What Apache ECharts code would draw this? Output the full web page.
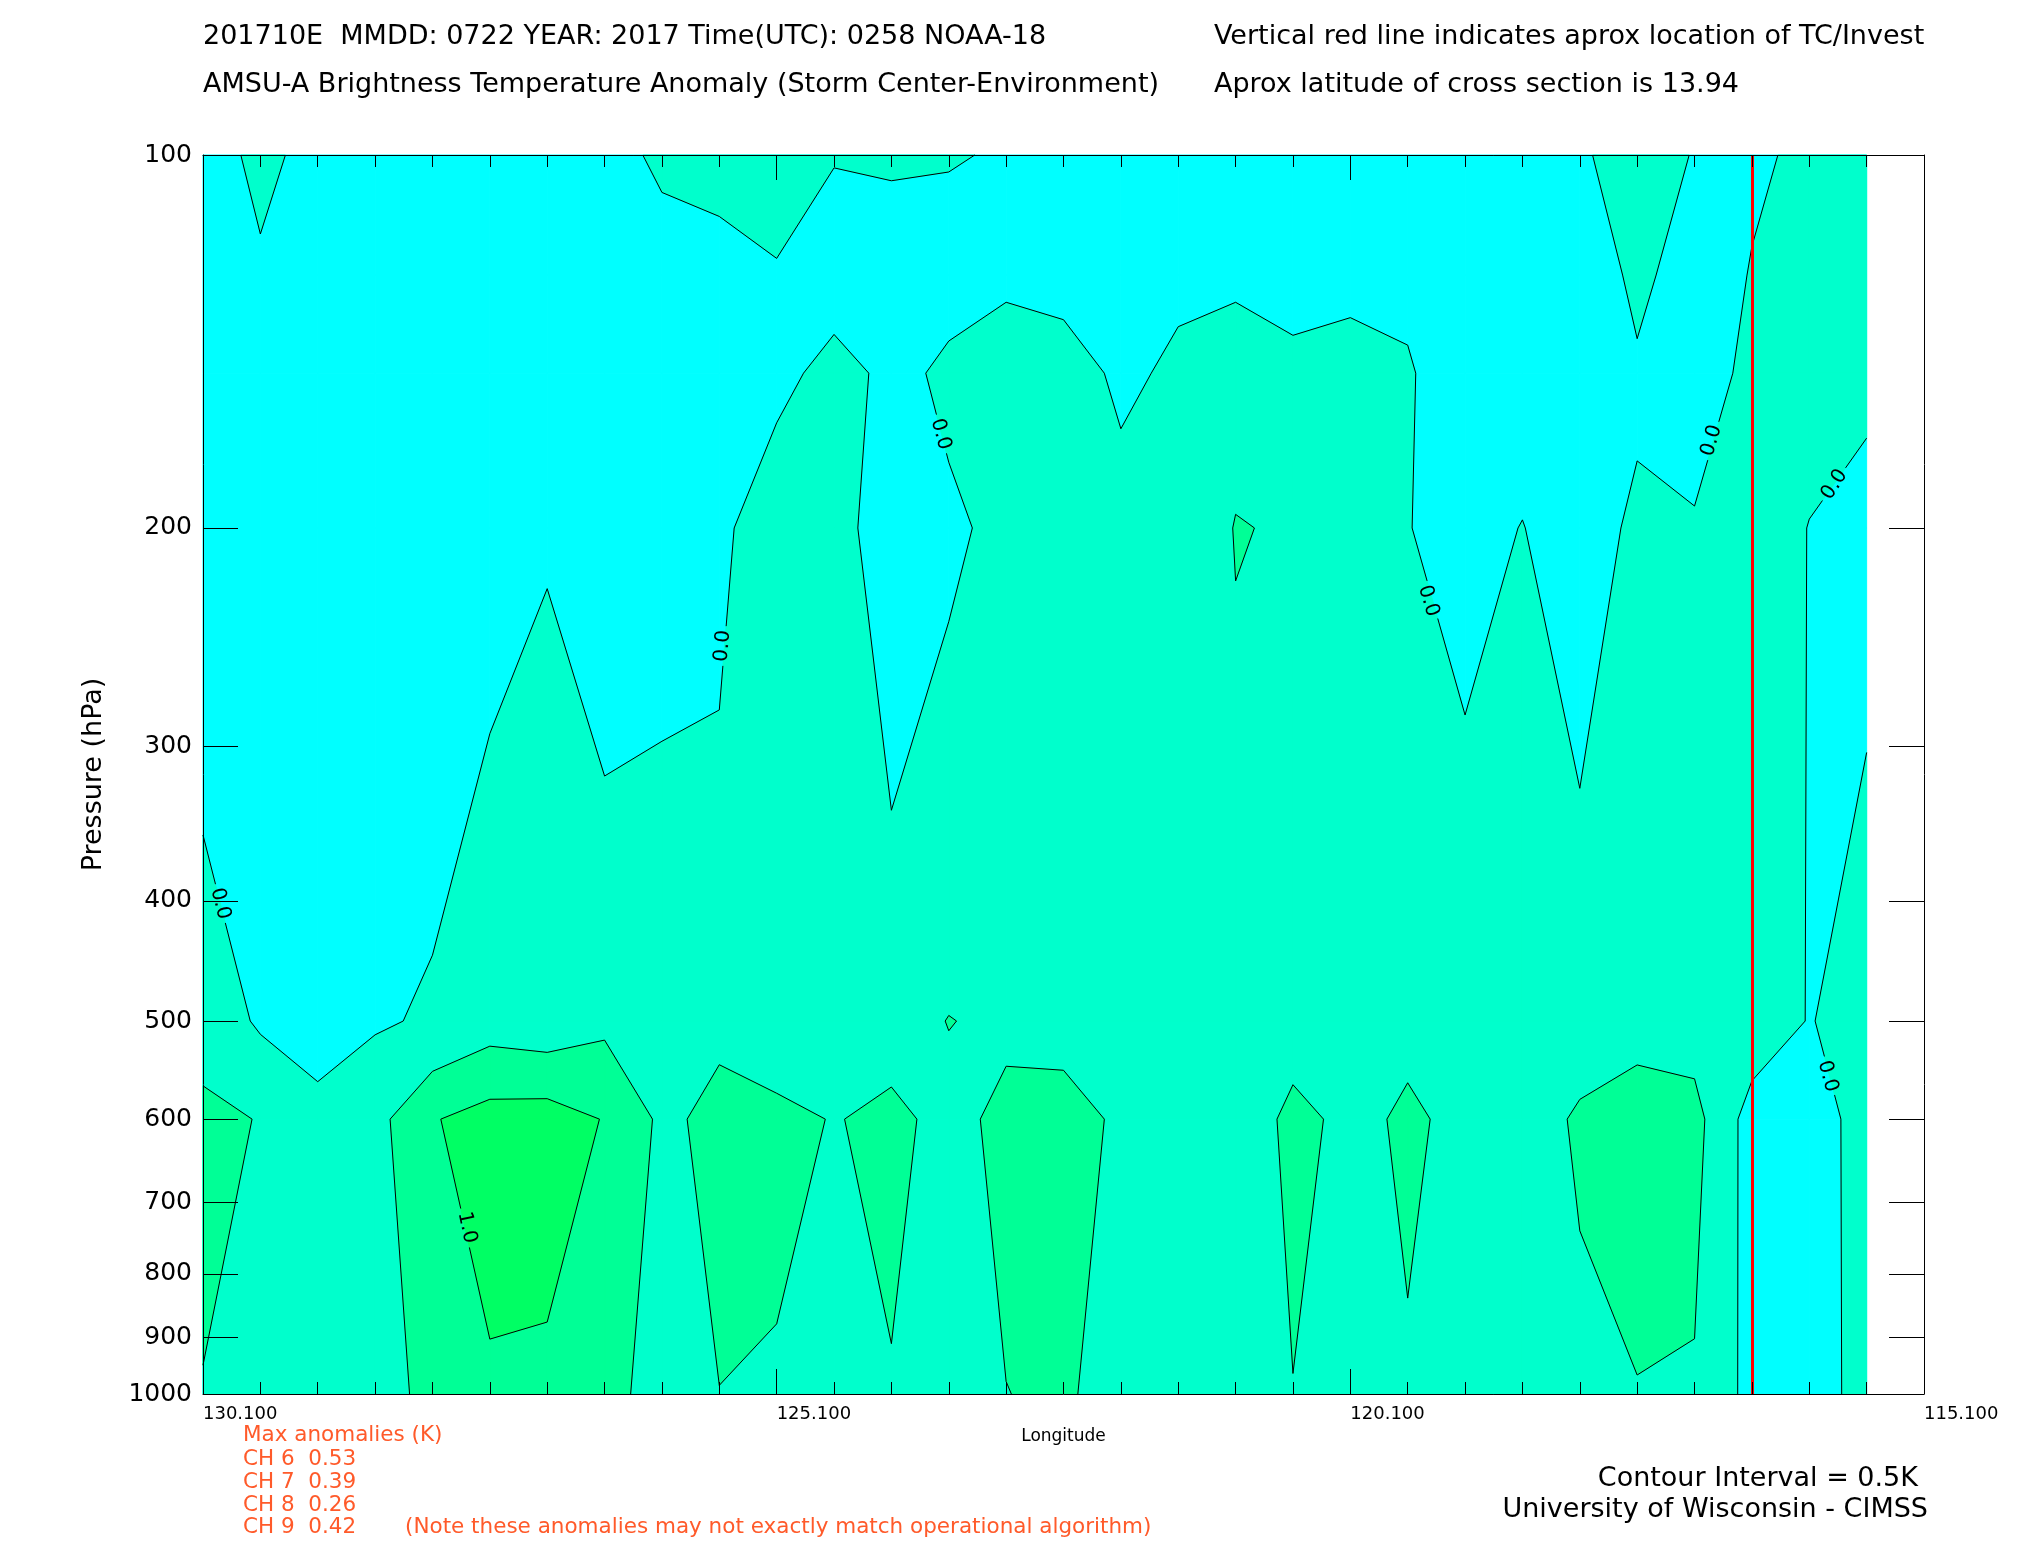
<!DOCTYPE html>
<html>
<head>
<meta charset="utf-8">
<title>AMSU-A Brightness Temperature Anomaly cross section</title>
<script src="https://cdn.jsdelivr.net/npm/echarts@6/dist/echarts.min.js"></script>
<style>
  html, body { margin: 0; padding: 0; background: #fff; }
  #chart { width: 2025px; height: 1550px; }
</style>
</head>
<body>
<div id="chart"></div>
<script>
// data columns (deg E) and pressure levels (hPa) of the cross section
const lons = [130.1, 129.6, 129.1, 128.6, 128.1, 127.6, 127.1, 126.6, 126.1, 125.6,
  125.1, 124.6, 124.1, 123.6, 123.1, 122.6, 122.1, 121.6, 121.1, 120.6,
  120.1, 119.6, 119.1, 118.6, 118.1, 117.6, 117.1, 116.6, 116.1, 115.6];
const levels = [100, 125, 150, 200, 500, 600, 1000];

// temperature anomaly (K) on each level, one value per column
const anom100 = [-0.3, 0.155, -0.2, -0.3, -0.3, -0.3, -0.3, -0.2, 0.1, 0.12,
  0.15, 0.03, 0.05, 0.024, -0.029, -0.2, -0.2, -0.2, -0.2, -0.2,
  -0.2, -0.2, -0.2, -0.2, -0.05, 0.175, -0.018, -0.077, 0.093, 0.15];
const anom125 = [-0.32, -0.09, -0.3, -0.3, -0.3, -0.3, -0.3, -0.3, -0.247, -0.128,
  -0.027, -0.28, -0.205, -0.163, -0.07, -0.15, -0.2, -0.072, -0.112, -0.218,
  -0.14, -0.114, -0.3, -0.25, -0.42, 0.143, -0.29, 0.027, 0.25, 0.12];
const anom150 = [-0.35, -0.3, -0.35, -0.35, -0.35, -0.3, -0.3, -0.3, -0.45, -0.376,
  -0.176, 0.2, -0.13, 0.087, 0.2, 0.197, -0.08, 0.071, 0.32, 0.15,
  0.2, 0.05, -0.307, -0.157, -0.3, -0.085, -0.263, 0.131, 0.2, 0.067];
const anom200 = [-0.339, -0.35, -0.4, -0.35, -0.219, -0.126, -0.016, -0.253, -0.144, -0.151,
  0.431, 0.211, -0.298, -0.074, 0.106, 0.3, 0.165, 0.12, 0.52, 0.459,
  0.3, 0.01, -0.12, 0.01, -0.19, 0.075, 0.05, 0.3, -0.014, -0.107];
const anom500 = [0.322, -0.069, -0.25, -0.05, 0.052, 0.28, 0.185, 0.395, 0.3, 0.412,
  0.245, 0.3, 0.35, 0.51, 0.436, 0.35, 0.3, 0.3, 0.23, 0.402,
  0.3, 0.455, 0.313, 0.3, 0.268, 0.352, 0.297, 0.3, -0.023, 0.203];
const anom600 = [0.6, 0.483, 0.169, 0.335, 0.966, 1.2, 1.235, 0.977, 0.406, 0.62,
  0.6, 0.482, 0.58, 0.4, 0.582, 0.663, 0.434, 0.35, 0.35, 0.558,
  0.449, 0.529, 0.455, 0.273, 0.564, 0.7, 0.655, -0.21, -0.3, 0.244];
const anom1000 = [0.485, 0.35, 0.3, 0.199, 0.7, 0.936, 0.893, 0.75, 0.2, 0.495,
  0.456, 0.35, 0.477, 0.35, 0.495, 0.55, 0.35, 0.3, 0.3, 0.494,
  0.35, 0.48, 0.35, 0.3, 0.379, 0.481, 0.45, -0.148, -0.3, 0.231];
const anomRows = [anom100, anom125, anom150, anom200, anom500, anom600, anom1000];

// contour levels (0.5 K interval) and fill colours below / between them
const contourLevels = [0, 0.5, 1.0];
const bandColors = ['#00ffff', '#00ffcc', '#00ff96', '#00ff64'];

// axis ticks
const lonMin = 115.1;
const lonMax = 130.1;
const pressureLabels = [100, 200, 300, 400, 500, 600, 700, 800, 900, 1000];
const pressureTicks = [200, 300, 400, 500, 600, 700, 800, 900];

// contour labels
const labelLons = [123.67, 125.57, 129.95, 119.42, 116.95, 115.88, 115.94, 127.8];
const labelPs = [168, 249, 402, 229, 170, 184.5, 554, 734];
const labelTexts = ['0.0', '0.0', '0.0', '0.0', '0.0', '0.0', '0.0', '1.0'];
const labelAngles = [-75, 85, -76, -73, 74, 57, -75, -78];

// storm position
const tcLon = 116.6;

const FONT = '"DejaVu Sans", "Liberation Sans", sans-serif';
const ORANGE = '#ff5a2a';
const LABEL_SIZE = 20;
const LABEL_GAP = 20;

const cells = [];
for (let j = 0; j < levels.length - 1; j++) {
  for (let i = 0; i < lons.length - 1; i++) {
    cells.push([lons[i], levels[j], i, j]);
  }
}

function cross(pa, pb, va, vb, c) {
  const t = (c - va) / (vb - va);
  return [pa[0] + t * (pb[0] - pa[0]), pa[1] + t * (pb[1] - pa[1])];
}

function cellCorners(i, j) {
  return [[lons[i], levels[j]], [lons[i + 1], levels[j]], [lons[i + 1], levels[j + 1]], [lons[i], levels[j + 1]]];
}

// part of one grid cell where the anomaly is >= c (marching squares)
function cellPieces(i, j, c) {
  const pts = cellCorners(i, j);
  const v = [anomRows[j][i], anomRows[j][i + 1], anomRows[j + 1][i + 1], anomRows[j + 1][i]];
  const up = v.map((x) => x >= c);
  const n = up.filter(Boolean).length;
  if (n === 0) return [];
  if (n === 4) return [pts.map((p) => ({ p, x: false }))];
  const edge = (a, b) => ({ p: cross(pts[a], pts[b], v[a], v[b], c), x: true });
  const saddle = up[0] === up[2] && up[1] === up[3];
  if (saddle && (v[0] + v[1] + v[2] + v[3]) / 4 < c) {
    const out = [];
    for (let k = 0; k < 4; k++) {
      if (up[k]) out.push([{ p: pts[k], x: false }, edge(k, (k + 1) % 4), edge((k + 3) % 4, k)]);
    }
    return out;
  }
  const poly = [];
  for (let k = 0; k < 4; k++) {
    const m = (k + 1) % 4;
    if (up[k]) poly.push({ p: pts[k], x: false });
    if (up[k] !== up[m]) poly.push(edge(k, m));
  }
  return [poly];
}

function cellSegments(i, j, c) {
  const segs = [];
  cellPieces(i, j, c).forEach((poly) => {
    for (let k = 0; k < poly.length; k++) {
      const a = poly[k];
      const b = poly[(k + 1) % poly.length];
      if (a.x && b.x) segs.push([a.p, b.p]);
    }
  });
  return segs;
}

// cut the pieces of a pixel segment that run under a contour label
function openGaps(p1, p2, holes) {
  let spans = [[0, 1]];
  const dx = p2[0] - p1[0];
  const dy = p2[1] - p1[1];
  const a = dx * dx + dy * dy;
  if (a === 0) return [];
  holes.forEach((h) => {
    const fx = p1[0] - h[0];
    const fy = p1[1] - h[1];
    const b = 2 * (fx * dx + fy * dy);
    const c = fx * fx + fy * fy - LABEL_GAP * LABEL_GAP;
    const disc = b * b - 4 * a * c;
    if (disc <= 0) return;
    const s = Math.sqrt(disc);
    const t1 = (-b - s) / (2 * a);
    const t2 = (-b + s) / (2 * a);
    const next = [];
    spans.forEach(([u, w]) => {
      if (t2 <= u || t1 >= w) { next.push([u, w]); return; }
      if (t1 > u) next.push([u, t1]);
      if (t2 < w) next.push([t2, w]);
    });
    spans = next;
  });
  return spans.map(([u, w]) => [
    [p1[0] + u * dx, p1[1] + u * dy],
    [p1[0] + w * dx, p1[1] + w * dy],
  ]);
}

function fillSeries(band) {
  return {
    type: 'custom',
    data: cells,
    encode: { x: 0, y: 1 },
    silent: true,
    z: 2,
    renderItem(params, api) {
      const i = api.value(2);
      const j = api.value(3);
      const pieces = band === 0
        ? [cellCorners(i, j).map((p) => ({ p }))]
        : cellPieces(i, j, contourLevels[band - 1]);
      return {
        type: 'group',
        children: pieces.map((poly) => ({
          type: 'polygon',
          shape: { points: poly.map((q) => api.coord(q.p)) },
          style: { fill: bandColors[band], stroke: bandColors[band], lineWidth: 1 },
        })),
      };
    },
  };
}

const lineSeries = {
  type: 'custom',
  data: cells,
  encode: { x: 0, y: 1 },
  silent: true,
  z: 3,
  renderItem(params, api) {
    const i = api.value(2);
    const j = api.value(3);
    const holes = labelLons.map((lon, k) => api.coord([lon, labelPs[k]]));
    const children = [];
    contourLevels.forEach((c) => {
      cellSegments(i, j, c).forEach(([a, b]) => {
        openGaps(api.coord(a), api.coord(b), holes).forEach(([p1, p2]) => {
          children.push({
            type: 'line',
            shape: { x1: p1[0], y1: p1[1], x2: p2[0], y2: p2[1] },
            style: { stroke: '#000', lineWidth: 1 },
          });
        });
      });
    });
    return { type: 'group', children };
  },
};

const labelSeries = {
  type: 'custom',
  data: labelLons.map((lon, k) => [lon, labelPs[k], k]),
  encode: { x: 0, y: 1 },
  silent: true,
  z: 4,
  renderItem(params, api) {
    const k = api.value(2);
    const pt = api.coord([api.value(0), api.value(1)]);
    return {
      type: 'text',
      x: pt[0],
      y: pt[1],
      rotation: labelAngles[k] * Math.PI / 180,
      style: {
        text: labelTexts[k],
        font: LABEL_SIZE + 'px ' + FONT,
        fill: '#000',
        align: 'center',
        verticalAlign: 'middle',
      },
    };
  },
  markLine: {
    silent: true,
    symbol: ['none', 'none'],
    label: { show: false },
    lineStyle: { color: '#ff0000', width: 3, type: 'solid' },
    data: [{ xAxis: tcLon }],
  },
};

function lonAxis(position) {
  return {
    type: 'value',
    position,
    min: lonMin,
    max: lonMax,
    interval: 5,
    inverse: true,
    z: 10,
    axisLine: { show: true, lineStyle: { color: '#000', width: 1 } },
    axisTick: { show: true, inside: true, length: 25, lineStyle: { color: '#000', width: 1 } },
    minorTick: { show: true, splitNumber: 10, length: 12, lineStyle: { color: '#000', width: 1 } },
    splitLine: { show: false },
    minorSplitLine: { show: false },
    axisLabel: {
      show: position === 'bottom',
      formatter: (v) => v.toFixed(3),
      align: 'left',
      margin: 11,
      fontSize: 18,
      fontFamily: FONT,
      color: '#000',
    },
    name: position === 'bottom' ? 'Longitude' : '',
    nameLocation: 'middle',
    nameGap: 33,
    nameTextStyle: { fontSize: 17, fontFamily: FONT, color: '#000' },
  };
}

function pressureAxis(position) {
  return {
    type: 'log',
    logBase: 10,
    position,
    min: 100,
    max: 1000,
    inverse: true,
    z: 10,
    axisLine: { show: true, lineStyle: { color: '#000', width: 1 } },
    axisTick: { show: true, inside: true, length: 35, customValues: pressureTicks, lineStyle: { color: '#000', width: 1 } },
    splitLine: { show: false },
    minorTick: { show: false },
    axisLabel: {
      show: position === 'left',
      customValues: pressureLabels,
      formatter: (v) => String(Math.round(v)),
      margin: 11,
      fontSize: 25,
      fontFamily: FONT,
      color: '#000',
    },
    name: position === 'left' ? 'Pressure (hPa)' : '',
    nameLocation: 'middle',
    nameRotate: 90,
    nameGap: 96,
    nameTextStyle: { fontSize: 27, fontFamily: FONT, color: '#000' },
  };
}

function txt(x, y, text, size, color, align) {
  return {
    type: 'text',
    x,
    y,
    silent: true,
    style: { text, font: size + 'px ' + FONT, fill: color, align: align || 'left', verticalAlign: 'middle' },
  };
}

const chart = echarts.init(document.getElementById('chart'));
chart.setOption({
  animation: false,
  backgroundColor: '#fff',
  grid: { left: 203, right: 101, top: 155, bottom: 156, show: true, backgroundColor: '#fff', borderWidth: 0 },
  xAxis: [lonAxis('bottom'), lonAxis('top')],
  yAxis: [pressureAxis('left'), pressureAxis('right')],
  graphic: [
    txt(203, 37, '201710E  MMDD: 0722 YEAR: 2017 Time(UTC): 0258 NOAA-18', 27, '#000'),
    txt(203, 85, 'AMSU-A Brightness Temperature Anomaly (Storm Center-Environment)', 27, '#000'),
    txt(1214, 37, 'Vertical red line indicates aprox location of TC/Invest', 27, '#000'),
    txt(1214, 85, 'Aprox latitude of cross section is 13.94', 27, '#000'),
    txt(243, 1435, 'Max anomalies (K)', 21.5, ORANGE),
    txt(243, 1459, 'CH 6  0.53', 21.5, ORANGE),
    txt(243, 1482, 'CH 7  0.39', 21.5, ORANGE),
    txt(243, 1505, 'CH 8  0.26', 21.5, ORANGE),
    txt(243, 1527, 'CH 9  0.42', 21.5, ORANGE),
    txt(405, 1527, '(Note these anomalies may not exactly match operational algorithm)', 21.5, ORANGE),
    txt(1918, 1479, 'Contour Interval = 0.5K', 27, '#000', 'right'),
    txt(1928, 1510, 'University of Wisconsin - CIMSS', 27, '#000', 'right'),
  ],
  series: [fillSeries(0), fillSeries(1), fillSeries(2), fillSeries(3), lineSeries, labelSeries],
});
</script>
</body>
</html>
